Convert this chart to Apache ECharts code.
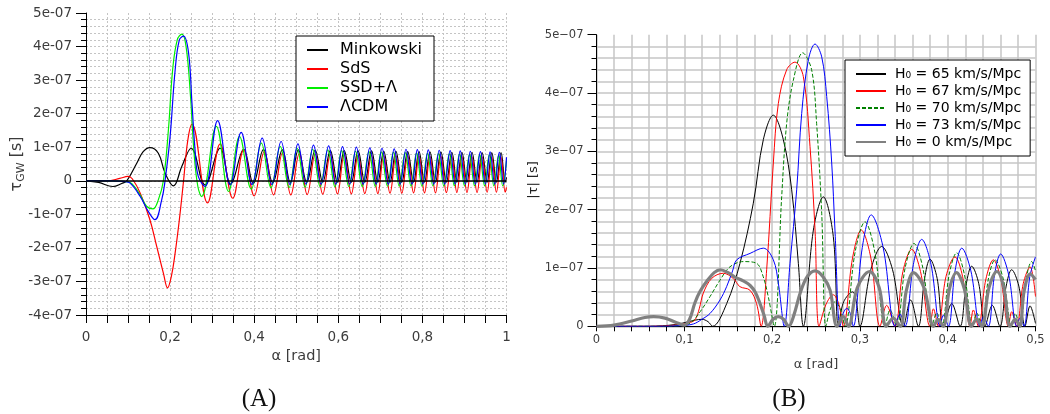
<!DOCTYPE html>
<html>
<head>
<meta charset="utf-8">
<script src="https://cdn.jsdelivr.net/npm/echarts@6/dist/echarts.min.js"></script>
<style>
  html, body { margin: 0; padding: 0; background: #fff; }
  #chart { width: 1050px; height: 414px; }
</style>
</head>
<body>
<div id="chart"></div>
<script>
// ---- Panel (A): tau_GW versus alpha, values in units of 1e-7 s ----
const leftXTicks = ['0', '0,2', '0,4', '0,6', '0,8', '1'];
const leftYTicks = ['-4e-07', '-3e-07', '-2e-07', '-1e-07', '0', '1e-07', '2e-07', '3e-07', '4e-07', '5e-07'];
const leftNames = ['Minkowski', 'SdS', 'SSD+Λ', 'ΛCDM'];

const minkowski = [
  [0,0],[0.03,-0.05],[0.064,-0.17],[0.085,-0.08],[0.097,0],[0.121,0.53],[0.136,0.87],[0.152,0.99],
  [0.172,0.82],[0.188,0.23],[0.208,-0.15],[0.228,0.43],[0.25,0.97],[0.283,-0.12],[0.319,0.97],
  [0.344,-0.1],[0.375,0.94],[0.398,-0.08],[0.422,0.93],[0.444,-0.06],[0.467,0.92],[0.486,-0.05],
  [0.505,0.92],[0.525,-0.04],[0.545,0.91],[0.563,-0.04],[0.581,0.9],[0.598,-0.04],[0.614,0.9],
  [0.631,-0.04],[0.647,0.89],[0.663,-0.04],[0.679,0.89],[0.694,-0.04],[0.708,0.88],[0.723,-0.04],
  [0.737,0.88],[0.751,-0.04],[0.765,0.87],[0.779,-0.04],[0.792,0.87],[0.805,-0.04],[0.818,0.86],
  [0.831,-0.04],[0.844,0.86],[0.857,-0.04],[0.870,0.85],[0.882,-0.04],[0.894,0.85],[0.906,-0.04],
  [0.918,0.85],[0.930,-0.04],[0.942,0.84],[0.954,-0.04],[0.965,0.84],[0.976,-0.04],[0.987,0.84],
  [0.997,-0.04],[1.0,0.1]
];
const sds = [
  [0,0],[0.05,0],[0.08,0.07],[0.1,0.13],[0.11,0.06],[0.129,-0.37],[0.152,-1.16],[0.168,-1.95],
  [0.184,-2.75],[0.194,-3.19],[0.203,-2.85],[0.212,-2.15],[0.222,-1.16],[0.232,0],[0.242,1.2],
  [0.252,1.69],[0.289,-0.66],[0.319,1.10],[0.349,-0.52],[0.375,0.92],[0.400,-0.45],[0.424,0.87],
  [0.446,-0.42],[0.467,0.82],[0.487,-0.42],[0.507,0.80],[0.526,-0.41],[0.545,0.79],[0.563,-0.40],
  [0.581,0.78],[0.598,-0.39],[0.614,0.77],[0.631,-0.39],[0.647,0.76],[0.663,-0.38],[0.679,0.76],
  [0.694,-0.38],[0.708,0.75],[0.723,-0.37],[0.737,0.75],[0.751,-0.37],[0.765,0.74],[0.779,-0.36],
  [0.792,0.74],[0.805,-0.36],[0.818,0.73],[0.831,-0.36],[0.844,0.73],[0.857,-0.35],[0.870,0.72],
  [0.882,-0.35],[0.894,0.72],[0.906,-0.35],[0.918,0.71],[0.930,-0.35],[0.942,0.71],[0.954,-0.34],
  [0.965,0.70],[0.976,-0.34],[0.987,0.70],[0.997,-0.34],[1.0,-0.2]
];
const ssdLambda = [
  [0,0],[0.06,0],[0.09,-0.02],[0.105,-0.05],[0.129,-0.43],[0.144,-0.76],[0.159,-0.84],[0.172,-0.57],
  [0.184,0],[0.196,1.52],[0.206,3.3],[0.217,4.2],[0.228,4.37],[0.238,4.0],[0.248,2.61],[0.257,0.82],
  [0.266,-0.17],[0.275,-0.47],[0.310,1.62],[0.339,-0.32],[0.365,1.32],[0.393,-0.25],[0.417,1.12],
  [0.440,-0.21],[0.462,1.02],[0.483,-0.20],[0.502,0.97],[0.521,-0.19],[0.539,0.94],[0.557,-0.18],
  [0.575,0.92],[0.592,-0.18],[0.608,0.90],[0.625,-0.17],[0.641,0.88],[0.657,-0.17],[0.673,0.87],
  [0.688,-0.17],[0.702,0.86],[0.717,-0.16],[0.731,0.85],[0.745,-0.16],[0.759,0.84],[0.773,-0.16],
  [0.786,0.83],[0.799,-0.16],[0.812,0.82],[0.825,-0.15],[0.838,0.81],[0.851,-0.15],[0.864,0.80],
  [0.876,-0.15],[0.888,0.79],[0.900,-0.15],[0.912,0.78],[0.924,-0.15],[0.936,0.78],[0.948,-0.15],
  [0.959,0.77],[0.970,-0.15],[0.981,0.76],[0.991,-0.15],[1.0,0.6]
];
const lambdaCDM = [
  [0,0],[0.06,0],[0.09,-0.02],[0.105,-0.07],[0.129,-0.47],[0.148,-0.91],[0.164,-1.16],[0.18,-0.57],
  [0.188,0],[0.2,1.32],[0.212,3.3],[0.222,4.2],[0.232,4.31],[0.244,3.8],[0.252,2.31],[0.26,0.82],
  [0.267,0.13],[0.283,-0.17],[0.313,1.79],[0.343,-0.12],[0.369,1.44],[0.395,-0.11],[0.419,1.27],
  [0.442,-0.11],[0.464,1.17],[0.485,-0.11],[0.504,1.10],[0.523,-0.10],[0.541,1.06],[0.559,-0.10],
  [0.577,1.04],[0.594,-0.10],[0.610,1.02],[0.627,-0.10],[0.643,1.00],[0.659,-0.10],[0.675,0.98],
  [0.690,-0.10],[0.704,0.97],[0.719,-0.10],[0.733,0.95],[0.747,-0.10],[0.761,0.94],[0.775,-0.10],
  [0.788,0.93],[0.801,-0.10],[0.814,0.92],[0.827,-0.10],[0.840,0.91],[0.853,-0.10],[0.866,0.90],
  [0.878,-0.10],[0.890,0.89],[0.902,-0.10],[0.914,0.88],[0.926,-0.10],[0.938,0.87],[0.950,-0.10],
  [0.961,0.86],[0.972,-0.10],[0.983,0.85],[0.993,-0.10],[1.0,0.7]
];

// ---- Panel (B): |tau| versus alpha for several H0, values in units of 1e-7 s ----
const rightXTicks = ['0', '0,1', '0,2', '0,3', '0,4', '0,5'];
const rightYTicks = ['0', '1e\u221207', '2e\u221207', '3e\u221207', '4e\u221207', '5e\u221207'];
const rightNames = ['H\u2080 = 65 km/s/Mpc', 'H\u2080 = 67 km/s/Mpc', 'H\u2080 = 70 km/s/Mpc',
                    'H\u2080 = 73 km/s/Mpc', 'H\u2080 = 0 km/s/Mpc'];

const h65 = [
  [0,0],[0.06,0],[0.09,0.03],[0.105,0.08],[0.12,0.12],[0.127,0.08],[0.1323,0],[0.1483,0.39],
  [0.1634,1.08],[0.1786,2.11],[0.19,3.2],[0.2014,3.62],[0.2128,3.2],[0.2223,2.34],[0.2299,1.08],
  [0.2356,0],[0.247,1.65],[0.2583,2.22],[0.2697,1.54],[0.2755,0],[0.2815,0.42],[0.2918,0.59],
  [0.296,0.42],[0.3,0],[0.3124,0.97],[0.3248,1.37],[0.3372,0.97],[0.3495,0],[0.3578,0.45],
  [0.3666,0],[0.3737,0.82],[0.3798,1.15],[0.388,0.82],[0.395,0],[0.4046,0.39],[0.4141,0],
  [0.4212,0.73],[0.4273,1.03],[0.4354,0.73],[0.4425,0],[0.4508,0.36],[0.4595,0],[0.4666,0.69],
  [0.4728,0.97],[0.481,0.69],[0.488,0],[0.4938,0.35],[0.5,0.05]
];
const h67 = [
  [0,0],[0.06,0],[0.09,0.02],[0.105,0.06],[0.1122,0.11],[0.117,0.3],[0.1217,0.57],[0.1311,0.82],
  [0.1444,0.91],[0.1558,0.82],[0.1633,0.68],[0.1747,0.62],[0.1823,0.39],[0.1875,0],[0.1938,0.97],
  [0.2014,2.8],[0.2071,3.82],[0.2166,4.4],[0.2261,4.53],[0.2356,4.28],[0.2432,3.08],[0.2489,1.65],
  [0.2535,0],[0.2615,0.38],[0.2697,0.54],[0.276,0.38],[0.2812,0],[0.2916,1.17],[0.3016,1.65],
  [0.3125,1.17],[0.3229,0],[0.3305,0.36],[0.340,0],[0.349,0.94],[0.359,1.32],[0.369,0.94],
  [0.3798,0],[0.3837,0.3],[0.3893,0],[0.398,0.85],[0.4083,1.19],[0.417,0.85],[0.4254,0],
  [0.4292,0.28],[0.4349,0],[0.4435,0.81],[0.452,1.14],[0.4605,0.81],[0.4691,0],[0.4729,0.25],
  [0.4786,0],[0.486,0.73],[0.4938,1.02],[0.5,0.51]
];
const h70 = [
  [0,0],[0.06,0],[0.095,0.01],[0.1065,0.05],[0.118,0.25],[0.1293,0.51],[0.1406,0.79],[0.152,1.02],
  [0.1672,1.11],[0.1823,1.08],[0.1899,0.85],[0.1956,0.51],[0.2025,0],[0.2109,2.22],[0.2166,3.48],
  [0.2242,4.22],[0.2348,4.69],[0.245,4.4],[0.2507,3.48],[0.2565,1.94],[0.2612,0],[0.2665,0.3],
  [0.2717,0.42],[0.2775,0.3],[0.2831,0],[0.2945,1.27],[0.3058,1.79],[0.317,1.27],[0.3286,0],
  [0.3343,0.28],[0.3419,0],[0.3515,1.0],[0.3616,1.42],[0.3717,1.0],[0.3818,0],[0.3875,0.23],
  [0.3932,0],[0.4017,0.89],[0.4102,1.26],[0.419,0.89],[0.4284,0],[0.433,0.23],[0.4387,0],
  [0.4463,0.81],[0.4539,1.14],[0.4633,0.81],[0.4728,0],[0.4767,0.22],[0.4824,0],[0.489,0.79],
  [0.4957,1.11],[0.5,0.95]
];
const h73 = [
  [0,0],[0.06,0],[0.095,0.01],[0.1103,0.04],[0.12,0.12],[0.1293,0.22],[0.1406,0.45],[0.1482,0.68],
  [0.155,0.95],[0.1597,1.14],[0.1749,1.25],[0.19,1.34],[0.2014,1.14],[0.2071,0.74],[0.2139,0],
  [0.2204,1.08],[0.228,2.34],[0.2337,3.65],[0.2413,4.57],[0.2489,4.84],[0.2565,4.62],[0.2622,3.94],
  [0.2679,2.8],[0.2716,1.65],[0.2773,0],[0.281,0.22],[0.285,0.31],[0.289,0.22],[0.2925,0],
  [0.3027,1.35],[0.3129,1.91],[0.3265,1.35],[0.34,0],[0.3457,0.21],[0.3514,0],[0.3609,1.06],
  [0.3704,1.49],[0.381,1.06],[0.3913,0],[0.395,0.19],[0.4008,0],[0.4084,0.95],[0.416,1.34],
  [0.4264,0.95],[0.4368,0],[0.4406,0.16],[0.4463,0],[0.4533,0.88],[0.4603,1.24],[0.4695,0.88],
  [0.4786,0],[0.4824,0.14],[0.4869,0],[0.4935,0.85],[0.5,1.19]
];
const h0 = [
  [0,0],[0.02,0.02],[0.04,0.09],[0.055,0.15],[0.065,0.165],[0.078,0.14],[0.09,0.07],[0.1,0.02],
  [0.106,0.12],[0.112,0.4],[0.118,0.6],[0.126,0.78],[0.134,0.92],[0.141,0.97],[0.15,0.92],
  [0.158,0.84],[0.167,0.78],[0.175,0.7],[0.181,0.58],[0.186,0.4],[0.191,0.18],[0.195,0],
  [0.201,0.12],[0.207,0.165],[0.213,0.12],[0.219,0],[0.225,0.2],[0.232,0.57],[0.24,0.85],
  [0.249,0.95],[0.258,0.85],[0.266,0.62],[0.274,0],[0.281,0.17],[0.287,0],[0.297,0.66],
  [0.311,0.94],[0.322,0.66],[0.33,0],[0.338,0.14],[0.346,0],[0.353,0.62],[0.361,0.92],
  [0.373,0.66],[0.384,0],[0.389,0.12],[0.395,0],[0.402,0.64],[0.41,0.92],[0.419,0.64],[0.427,0],
  [0.433,0.12],[0.439,0],[0.447,0.66],[0.456,0.94],[0.464,0.66],[0.471,0],[0.477,0.12],
  [0.482,0],[0.487,0.6],[0.494,0.9],[0.5,0.8]
];

const FONT = 'DejaVu Sans';
const TEXT = '#3c3c3c';

function tickLabel(list, step, offset) {
  return function (v) {
    const r = v / step + offset;
    const k = Math.round(r);
    return Math.abs(r - k) < 1e-6 && list[k] !== undefined ? list[k] : '';
  };
}

function curve(name, data, color, width, axis, smooth, extra) {
  return Object.assign({
    name: name, type: 'line', data: data,
    xAxisIndex: axis, yAxisIndex: axis,
    showSymbol: false, symbol: 'none', smooth: smooth,
    lineStyle: { color: color, width: width },
    itemStyle: { color: color },
    emphasis: { disabled: true },
    silent: true
  }, extra || {});
}

const chart = echarts.init(document.getElementById('chart'), null, { renderer: 'canvas' });

chart.setOption({
  animation: false,
  backgroundColor: '#fff',
  grid: [
    { left: 86, top: 13, width: 420.5, height: 302 },
    { left: 596.5, top: 34.7, width: 439, height: 291.6 }
  ],
  xAxis: [
    {
      gridIndex: 0, type: 'value', min: 0, max: 1, interval: 0.05,
      axisLine: { onZero: false, lineStyle: { color: '#000', width: 1 } },
      axisTick: { length: 8, lineStyle: { color: '#000' } },
      axisLabel: { formatter: tickLabel(leftXTicks, 0.2, 0), fontSize: 13.5, color: TEXT,
                   fontFamily: FONT, margin: 15 },
      splitLine: { show: true, lineStyle: { color: '#c4c4c4', type: [2, 2], width: 1 } },
      name: 'α [rad]', nameLocation: 'middle', nameGap: 33,
      nameTextStyle: { fontSize: 14.5, color: TEXT, fontFamily: FONT }
    },
    {
      gridIndex: 1, type: 'value', min: 0, max: 0.5, interval: 0.02,
      axisLine: { onZero: false, lineStyle: { color: '#000', width: 1 } },
      axisTick: { length: 5, lineStyle: { color: '#000' } },
      axisLabel: { formatter: tickLabel(rightXTicks, 0.1, 0), fontSize: 11.5, color: TEXT,
                   fontFamily: FONT, margin: 8 },
      splitLine: { show: true, lineStyle: { color: '#c6c6c6', width: 1.5 } },
      name: 'α [rad]', nameLocation: 'middle', nameGap: 32,
      nameTextStyle: { fontSize: 13, color: TEXT, fontFamily: FONT }
    }
  ],
  yAxis: [
    {
      gridIndex: 0, type: 'value', min: -4, max: 5, interval: 1,
      axisLine: { show: true, onZero: false, lineStyle: { color: '#000', width: 1 } },
      axisTick: { show: true, length: 10, lineStyle: { color: '#000' } },
      minorTick: { show: true, splitNumber: 5, length: 5, lineStyle: { color: '#000' } },
      axisLabel: { formatter: tickLabel(leftYTicks, 1, 4), fontSize: 13.5, color: TEXT,
                   fontFamily: FONT, margin: 14 },
      splitLine: { show: true, showMaxLine: false, lineStyle: { color: '#c4c4c4', type: [2, 2], width: 1 } },
      minorSplitLine: { show: true, lineStyle: { color: '#c4c4c4', type: [2, 2], width: 1 } }
    },
    {
      gridIndex: 1, type: 'value', min: 0, max: 5, interval: 1,
      axisLine: { show: true, onZero: false, lineStyle: { color: '#000', width: 1 } },
      axisTick: { show: true, length: 9, lineStyle: { color: '#000' } },
      minorTick: { show: true, splitNumber: 5, length: 5, lineStyle: { color: '#000' } },
      axisLabel: { formatter: tickLabel(rightYTicks, 1, 0), fontSize: 11.5, color: TEXT,
                   fontFamily: FONT, margin: 13 },
      splitLine: { show: true, showMaxLine: false, lineStyle: { color: '#c6c6c6', width: 1.5 } },
      minorSplitLine: { show: true, lineStyle: { color: '#c6c6c6', width: 1.5 } }
    }
  ],
  legend: [
    {
      data: leftNames, orient: 'vertical', left: 296, top: 36,
      selectedMode: false, itemWidth: 21, itemHeight: 10, itemGap: 0,
      padding: [4.5, 12, 4.5, 10],
      backgroundColor: '#fff', borderColor: '#000', borderWidth: 1,
      itemStyle: { opacity: 0 },
      textStyle: { fontSize: 16, lineHeight: 19, color: '#000', fontFamily: FONT, padding: [0, 0, 0, 7] }
    },
    {
      data: rightNames, orient: 'vertical', left: 845, top: 60,
      selectedMode: false, itemWidth: 30, itemHeight: 10, itemGap: 0,
      padding: [5.5, 9, 5.5, 10],
      backgroundColor: '#fff', borderColor: '#000', borderWidth: 1,
      itemStyle: { opacity: 0 },
      textStyle: { fontSize: 14, lineHeight: 17, color: '#000', fontFamily: FONT, padding: [0, 0, 0, 4] }
    }
  ],
  graphic: [
    {
      type: 'text', x: 17, y: 164, rotation: Math.PI / 2,
      style: {
        text: '{a|τ}{b|GW}{a| [s]}', align: 'center', verticalAlign: 'middle',
        rich: {
          a: { fontSize: 16, fontFamily: FONT, fill: TEXT, lineHeight: 20 },
          b: { fontSize: 11, fontFamily: FONT, fill: TEXT, lineHeight: 20, verticalAlign: 'bottom' }
        }
      }
    },
    {
      type: 'text', x: 534, y: 180, rotation: Math.PI / 2,
      style: { text: '|τ| [s]', align: 'center', verticalAlign: 'middle',
               fontSize: 13, fontFamily: FONT, fill: '#222' }
    },
    {
      type: 'text', x: 259, y: 399,
      style: { text: '(A)', align: 'center', verticalAlign: 'middle',
               fontSize: 25, fontFamily: 'Liberation Serif', fill: '#111' }
    },
    {
      type: 'text', x: 789, y: 399,
      style: { text: '(B)', align: 'center', verticalAlign: 'middle',
               fontSize: 25, fontFamily: 'Liberation Serif', fill: '#111' }
    }
  ],
  series: [
    curve(leftNames[0], minkowski, '#000000', 1.2, 0, 0.4, {
      markLine: {
        silent: true, symbol: 'none', label: { show: false },
        lineStyle: { color: '#000', width: 1.5, type: 'solid' },
        data: [{ yAxis: 0 }]
      }
    }),
    curve(leftNames[1], sds, '#ff0000', 1.2, 0, 0.4),
    curve(leftNames[2], ssdLambda, '#00ee00', 1.2, 0, 0.4),
    curve(leftNames[3], lambdaCDM, '#0000ff', 1.2, 0, 0.4),
    curve(rightNames[0], h65, '#000000', 1, 1, 0.35),
    curve(rightNames[1], h67, '#ff0000', 1, 1, 0.35),
    curve(rightNames[2], h70, '#008000', 1, 1, 0.35, {
      lineStyle: { color: '#008000', width: 1, type: [4, 2] }
    }),
    curve(rightNames[3], h73, '#0000ff', 1, 1, 0.35),
    curve(rightNames[4], h0, '#808080', 3.2, 1, 0.35)
  ]
});
</script>
</body>
</html>
